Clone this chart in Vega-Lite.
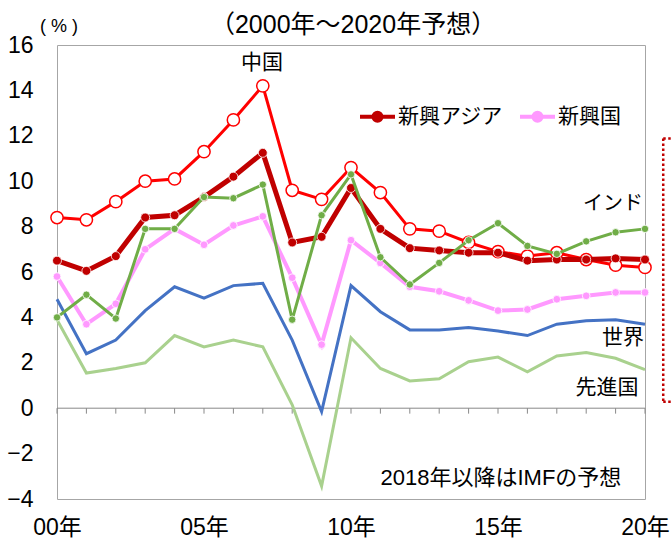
{
  "$schema": "https://vega.github.io/schema/vega-lite/v6.json",
  "autosize": {"type": "none"},
  "width": 588,
  "height": 454,
  "padding": {"left": 57, "top": 45, "right": 26, "bottom": 41},
  "background": "white",
  "datasets": {
    "growth": [
      {"series": "先進国", "year": 2000, "value": 3.9}, {"series": "先進国", "year": 2001, "value": 1.55}, {"series": "先進国", "year": 2002, "value": 1.75}, {"series": "先進国", "year": 2003, "value": 2.0}, {"series": "先進国", "year": 2004, "value": 3.2}, {"series": "先進国", "year": 2005, "value": 2.7}, {"series": "先進国", "year": 2006, "value": 3.0}, {"series": "先進国", "year": 2007, "value": 2.7}, {"series": "先進国", "year": 2008, "value": 0.15}, {"series": "先進国", "year": 2009, "value": -3.43}, {"series": "先進国", "year": 2010, "value": 3.1}, {"series": "先進国", "year": 2011, "value": 1.75}, {"series": "先進国", "year": 2012, "value": 1.2}, {"series": "先進国", "year": 2013, "value": 1.3}, {"series": "先進国", "year": 2014, "value": 2.05}, {"series": "先進国", "year": 2015, "value": 2.25}, {"series": "先進国", "year": 2016, "value": 1.6}, {"series": "先進国", "year": 2017, "value": 2.3}, {"series": "先進国", "year": 2018, "value": 2.45}, {"series": "先進国", "year": 2019, "value": 2.2}, {"series": "先進国", "year": 2020, "value": 1.7},
      {"series": "世界", "year": 2000, "value": 4.8}, {"series": "世界", "year": 2001, "value": 2.4}, {"series": "世界", "year": 2002, "value": 3.0}, {"series": "世界", "year": 2003, "value": 4.3}, {"series": "世界", "year": 2004, "value": 5.35}, {"series": "世界", "year": 2005, "value": 4.85}, {"series": "世界", "year": 2006, "value": 5.4}, {"series": "世界", "year": 2007, "value": 5.5}, {"series": "世界", "year": 2008, "value": 3.0}, {"series": "世界", "year": 2009, "value": -0.15}, {"series": "世界", "year": 2010, "value": 5.4}, {"series": "世界", "year": 2011, "value": 4.25}, {"series": "世界", "year": 2012, "value": 3.45}, {"series": "世界", "year": 2013, "value": 3.45}, {"series": "世界", "year": 2014, "value": 3.55}, {"series": "世界", "year": 2015, "value": 3.4}, {"series": "世界", "year": 2016, "value": 3.2}, {"series": "世界", "year": 2017, "value": 3.7}, {"series": "世界", "year": 2018, "value": 3.85}, {"series": "世界", "year": 2019, "value": 3.9}, {"series": "世界", "year": 2020, "value": 3.7},
      {"series": "新興国", "year": 2000, "value": 5.8}, {"series": "新興国", "year": 2001, "value": 3.7}, {"series": "新興国", "year": 2002, "value": 4.6}, {"series": "新興国", "year": 2003, "value": 7.0}, {"series": "新興国", "year": 2004, "value": 7.9}, {"series": "新興国", "year": 2005, "value": 7.2}, {"series": "新興国", "year": 2006, "value": 8.05}, {"series": "新興国", "year": 2007, "value": 8.45}, {"series": "新興国", "year": 2008, "value": 5.75}, {"series": "新興国", "year": 2009, "value": 2.8}, {"series": "新興国", "year": 2010, "value": 7.4}, {"series": "新興国", "year": 2011, "value": 6.4}, {"series": "新興国", "year": 2012, "value": 5.35}, {"series": "新興国", "year": 2013, "value": 5.15}, {"series": "新興国", "year": 2014, "value": 4.75}, {"series": "新興国", "year": 2015, "value": 4.3}, {"series": "新興国", "year": 2016, "value": 4.35}, {"series": "新興国", "year": 2017, "value": 4.8}, {"series": "新興国", "year": 2018, "value": 4.95}, {"series": "新興国", "year": 2019, "value": 5.1}, {"series": "新興国", "year": 2020, "value": 5.1},
      {"series": "中国", "year": 2000, "value": 8.4}, {"series": "中国", "year": 2001, "value": 8.3}, {"series": "中国", "year": 2002, "value": 9.1}, {"series": "中国", "year": 2003, "value": 10.0}, {"series": "中国", "year": 2004, "value": 10.1}, {"series": "中国", "year": 2005, "value": 11.3}, {"series": "中国", "year": 2006, "value": 12.7}, {"series": "中国", "year": 2007, "value": 14.2}, {"series": "中国", "year": 2008, "value": 9.6}, {"series": "中国", "year": 2009, "value": 9.2}, {"series": "中国", "year": 2010, "value": 10.6}, {"series": "中国", "year": 2011, "value": 9.5}, {"series": "中国", "year": 2012, "value": 7.9}, {"series": "中国", "year": 2013, "value": 7.8}, {"series": "中国", "year": 2014, "value": 7.3}, {"series": "中国", "year": 2015, "value": 6.9}, {"series": "中国", "year": 2016, "value": 6.7}, {"series": "中国", "year": 2017, "value": 6.85}, {"series": "中国", "year": 2018, "value": 6.55}, {"series": "中国", "year": 2019, "value": 6.3}, {"series": "中国", "year": 2020, "value": 6.2},
      {"series": "新興アジア", "year": 2000, "value": 6.5}, {"series": "新興アジア", "year": 2001, "value": 6.05}, {"series": "新興アジア", "year": 2002, "value": 6.7}, {"series": "新興アジア", "year": 2003, "value": 8.4}, {"series": "新興アジア", "year": 2004, "value": 8.5}, {"series": "新興アジア", "year": 2005, "value": 9.3}, {"series": "新興アジア", "year": 2006, "value": 10.2}, {"series": "新興アジア", "year": 2007, "value": 11.25}, {"series": "新興アジア", "year": 2008, "value": 7.3}, {"series": "新興アジア", "year": 2009, "value": 7.55}, {"series": "新興アジア", "year": 2010, "value": 9.7}, {"series": "新興アジア", "year": 2011, "value": 7.9}, {"series": "新興アジア", "year": 2012, "value": 7.05}, {"series": "新興アジア", "year": 2013, "value": 6.95}, {"series": "新興アジア", "year": 2014, "value": 6.85}, {"series": "新興アジア", "year": 2015, "value": 6.85}, {"series": "新興アジア", "year": 2016, "value": 6.5}, {"series": "新興アジア", "year": 2017, "value": 6.55}, {"series": "新興アジア", "year": 2018, "value": 6.55}, {"series": "新興アジア", "year": 2019, "value": 6.6}, {"series": "新興アジア", "year": 2020, "value": 6.55},
      {"series": "インド", "year": 2000, "value": 4.0}, {"series": "インド", "year": 2001, "value": 5.0}, {"series": "インド", "year": 2002, "value": 3.95}, {"series": "インド", "year": 2003, "value": 7.9}, {"series": "インド", "year": 2004, "value": 7.9}, {"series": "インド", "year": 2005, "value": 9.3}, {"series": "インド", "year": 2006, "value": 9.25}, {"series": "インド", "year": 2007, "value": 9.85}, {"series": "インド", "year": 2008, "value": 3.9}, {"series": "インド", "year": 2009, "value": 8.5}, {"series": "インド", "year": 2010, "value": 10.3}, {"series": "インド", "year": 2011, "value": 6.65}, {"series": "インド", "year": 2012, "value": 5.45}, {"series": "インド", "year": 2013, "value": 6.4}, {"series": "インド", "year": 2014, "value": 7.4}, {"series": "インド", "year": 2015, "value": 8.15}, {"series": "インド", "year": 2016, "value": 7.15}, {"series": "インド", "year": 2017, "value": 6.8}, {"series": "インド", "year": 2018, "value": 7.35}, {"series": "インド", "year": 2019, "value": 7.75}, {"series": "インド", "year": 2020, "value": 7.9}
    ]
  },
  "data": {"name": "growth"},
  "layer": [
    {
      "data": {"values": [{}]},
      "mark": {"type": "rule", "color": "#898989", "strokeWidth": 1},
      "encoding": {"y": {"datum": 0, "type": "quantitative", "scale": {"domain": [-4, 16], "nice": false}}}
    },
    {
      "transform": [{"filter": "datum.series === '世界'"}],
      "mark": {"type": "rule", "color": "#898989", "strokeWidth": 1},
      "encoding": {
        "x": {"field": "year", "type": "quantitative"},
        "y": {"datum": 0},
        "y2": {"datum": -0.24}
      }
    },
    {
      "encoding": {
        "x": {
          "field": "year", "type": "quantitative",
          "scale": {"domain": [2000, 2020], "nice": false, "zero": false},
          "axis": {"values": [2000, 2005, 2010, 2015, 2020], "grid": false, "title": null, "labelExpr": "(datum.value % 100 < 10 ? '0' : '') + (datum.value % 100) + '年'", "labelPadding": 17, "labelFlush": false, "labelOverlap": false, "labelBound": false}
        },
        "y": {
          "field": "value", "type": "quantitative",
          "scale": {"domain": [-4, 16], "nice": false},
          "axis": {"values": [-4, -2, 0, 2, 4, 6, 8, 10, 12, 14, 16], "labelPadding": 24, "title": null}
        },
        "color": {
          "field": "series", "type": "nominal",
          "scale": {"domain": ["中国", "新興アジア", "インド", "新興国", "世界", "先進国"], "range": ["#FF0000", "#C00000", "#70AD47", "#FF99FF", "#4472C4", "#A9D18E"]},
          "legend": {
            "values": ["新興アジア", "新興国"],
            "orient": "none", "legendX": 301, "legendY": 52, "direction": "horizontal", "title": null,
            "symbolType": "M-1,0L1,0M0.23,0A0.23,0.23,0,1,1,-0.23,0A0.23,0.23,0,1,1,0.23,0Z",
            "symbolSize": 1225, "symbolStrokeWidth": 4, "symbolOpacity": 1,
            "labelFontSize": 21, "labelOffset": 1, "columnPadding": 9, "labelColor": "black", "labelLimit": 300,
            "encode": {"symbols": {"update": {"fill": {"scale": "color", "field": "value"}, "fillOpacity": {"value": 1}}}}
          }
        }
      },
      "layer": [
        {"transform": [{"filter": "datum.series === '先進国'"}], "mark": {"type": "line", "strokeWidth": 3}},
        {"transform": [{"filter": "datum.series === '世界'"}], "mark": {"type": "line", "strokeWidth": 3}},
        {"transform": [{"filter": "datum.series === '新興国'"}], "mark": {"type": "line", "strokeWidth": 4, "point": {"filled": true, "size": 60, "stroke": "white", "strokeWidth": 0.8}}},
        {"transform": [{"filter": "datum.series === '中国'"}], "mark": {"type": "line", "strokeWidth": 3, "point": {"filled": false, "fill": "white", "size": 150, "strokeWidth": 1.5}}},
        {"transform": [{"filter": "datum.series === '新興アジア'"}], "mark": {"type": "line", "strokeWidth": 5, "point": {"filled": true, "size": 80, "stroke": "white", "strokeWidth": 0.8}}},
        {"transform": [{"filter": "datum.series === 'インド'"}], "mark": {"type": "line", "strokeWidth": 3, "point": {"filled": true, "size": 55, "stroke": "white", "strokeWidth": 0.8}}}
      ]
    },
    {
      "data": {"values": [{}]},
      "mark": {"type": "rule", "color": "#C00000", "strokeWidth": 2.5, "strokeDash": [2.5, 2.5]},
      "encoding": {"x": {"datum": 2020.62}, "y": {"datum": 11.88}, "y2": {"datum": 0.28}}
    },
    {
      "data": {"values": [{}]},
      "mark": {"type": "rule", "color": "#C00000", "strokeWidth": 2.5, "strokeDash": [2.5, 2.5]},
      "encoding": {"x": {"datum": 2020.62}, "x2": {"datum": 2021.3}, "y": {"datum": 11.88}}
    },
    {
      "data": {"values": [{}]},
      "mark": {"type": "rule", "color": "#C00000", "strokeWidth": 2.5, "strokeDash": [2.5, 2.5]},
      "encoding": {"x": {"datum": 2020.62}, "x2": {"datum": 2021.3}, "y": {"datum": 0.28}}
    },
    {
      "data": {"values": [{}]},
      "mark": {"type": "text", "text": "（2000年～2020年予想）", "fontSize": 25, "color": "black", "align": "center", "baseline": "middle"},
      "encoding": {"x": {"datum": 2010.07}, "y": {"datum": 16.87}}
    },
    {
      "data": {"values": [{}]},
      "mark": {"type": "text", "text": "( % )", "fontSize": 18, "color": "black", "align": "center", "baseline": "middle"},
      "encoding": {"x": {"datum": 2000.07}, "y": {"datum": 16.8}}
    },
    {
      "data": {"values": [{}]},
      "mark": {"type": "text", "text": "中国", "fontSize": 21, "color": "black", "align": "center", "baseline": "middle"},
      "encoding": {"x": {"datum": 2006.97}, "y": {"datum": 15.2}}
    },
    {
      "data": {"values": [{}]},
      "mark": {"type": "text", "text": "インド", "fontSize": 20, "color": "black", "align": "center", "baseline": "middle"},
      "encoding": {"x": {"datum": 2018.91}, "y": {"datum": 9.0}}
    },
    {
      "data": {"values": [{}]},
      "mark": {"type": "text", "text": "世界", "fontSize": 21, "color": "black", "align": "center", "baseline": "middle"},
      "encoding": {"x": {"datum": 2019.25}, "y": {"datum": 3.1}}
    },
    {
      "data": {"values": [{}]},
      "mark": {"type": "text", "text": "先進国", "fontSize": 21, "color": "black", "align": "center", "baseline": "middle"},
      "encoding": {"x": {"datum": 2018.71}, "y": {"datum": 0.9}}
    },
    {
      "data": {"values": [{}]},
      "mark": {"type": "text", "text": "2018年以降はIMFの予想", "fontSize": 22, "color": "black", "align": "center", "baseline": "middle"},
      "encoding": {"x": {"datum": 2015.1}, "y": {"datum": -3.06}}
    }
  ],
  "config": {
    "font": "Liberation Sans, Noto Sans CJK JP, sans-serif",
    "view": {"stroke": "#A6A6A6", "strokeWidth": 1},
    "axis": {"domain": false, "ticks": false, "gridColor": "#D9D9D9", "gridWidth": 1, "labelColor": "black", "labelFontSize": 23, "labelFont": "Liberation Sans, Noto Sans CJK JP, sans-serif"},
    "legend": {"labelFont": "Liberation Sans, Noto Sans CJK JP, sans-serif"},
    "text": {"font": "Liberation Sans, Noto Sans CJK JP, sans-serif"}
  }
}
